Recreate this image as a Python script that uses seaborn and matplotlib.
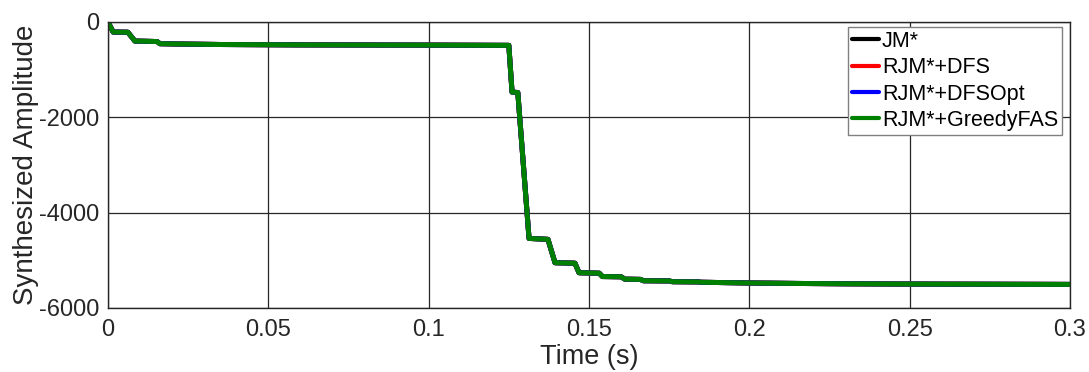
import numpy as np
import pandas as pd
import matplotlib
matplotlib.use("Agg")
import matplotlib.pyplot as plt
import seaborn as sns

# ---- data ----
time_s = [0.0, 0.0016, 0.0062, 0.0084, 0.0153, 0.0162, 0.022, 0.035, 0.06, 0.10,
          0.1250, 0.1260, 0.1278, 0.1313, 0.1372, 0.1394, 0.1456, 0.1469,
          0.1532, 0.1542, 0.1600, 0.1612, 0.1660, 0.1670, 0.1750, 0.1760,
          0.1840, 0.1850, 0.2000, 0.2150, 0.2300, 0.2500, 0.3000]
jm_amp = [0, -210, -215, -400, -410, -455, -462, -472, -480, -485,
          -490, -1470, -1480, -4540, -4560, -5050, -5060, -5260,
          -5270, -5340, -5345, -5395, -5400, -5428, -5432, -5448,
          -5452, -5460, -5475, -5485, -5492, -5498, -5505]
rjm_dfs_amp = list(jm_amp)
rjm_dfsopt_amp = list(jm_amp)
rjm_greedy_amp = list(jm_amp)

methods = ["JM*", "RJM*+DFS", "RJM*+DFSOpt", "RJM*+GreedyFAS"]
colors = ["#000000", "#ff0000", "#0000ff", "#008000"]
x_ticks = [0, 0.05, 0.1, 0.15, 0.2, 0.25, 0.3]
x_tick_labels = ["0", "0.05", "0.1", "0.15", "0.2", "0.25", "0.3"]
y_ticks = [-6000, -4000, -2000, 0]
y_tick_labels = ["-6000", "-4000", "-2000", "0"]

series = [jm_amp, rjm_dfs_amp, rjm_dfsopt_amp, rjm_greedy_amp]
df = pd.concat([
    pd.DataFrame({"t": time_s, "amp": vals, "method": m})
    for m, vals in zip(methods, series)
], ignore_index=True)

sns.set_theme(style="white")
plt.rcParams["font.family"] = ["Liberation Sans", "DejaVu Sans"]

fig = plt.figure(figsize=(10.89, 3.72), dpi=100)
ax = fig.add_axes([108 / 1089, 1 - 308 / 372, 962 / 1089, 286 / 372])

sns.lineplot(data=df, x="t", y="amp", hue="method", hue_order=methods,
             palette=dict(zip(methods, colors)), estimator=None, sort=False,
             linewidth=3.6, ax=ax)

ax.set_xlim(0, 0.3)
ax.set_ylim(-6000, 0)
ax.set_xticks(x_ticks)
ax.set_xticklabels(x_tick_labels)
ax.set_yticks(y_ticks)
ax.set_yticklabels(y_tick_labels)
ax.tick_params(axis="both", labelsize=17, colors="#262626", length=0)
ax.tick_params(axis="x", pad=8)
ax.tick_params(axis="y", pad=6)
ax.grid(True, color="#262626", linewidth=0.9)
ax.set_axisbelow(True)
for s in ax.spines.values():
    s.set_visible(True)
    s.set_color("#262626")
    s.set_linewidth(1.0)

ax.set_xlabel("Time (s)", fontsize=19.5, color="#262626", labelpad=2)
ax.set_ylabel("Synthesized Amplitude", fontsize=20, color="#262626", labelpad=0)

handles, labels = ax.get_legend_handles_labels()
for h in handles:
    h.set_linewidth(3)
leg = ax.legend(handles, labels, loc="upper right",
                bbox_to_anchor=((1062 - 108) / 962, 1 - (27 - 22) / 286),
                borderaxespad=0, fontsize=15.5, frameon=True, fancybox=False,
                edgecolor="#808080", framealpha=1, handlelength=1.25,
                handletextpad=0.15, borderpad=0.18, labelspacing=0.25)
leg.get_frame().set_linewidth(1.0)
for t in leg.get_texts():
    t.set_color("#000000")

fig.savefig("out.png", dpi=100)
